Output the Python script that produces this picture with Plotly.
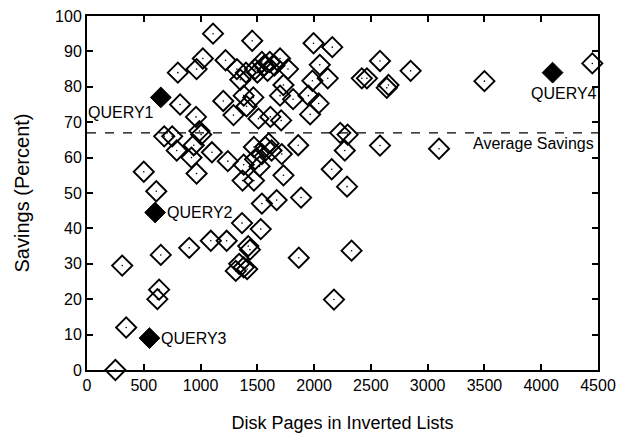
import plotly.graph_objects as go

# ---- data ----
open_x = [250, 310, 345, 500, 610, 620, 635, 650, 680, 750, 790, 800, 820, 920, 940, 965,
          965, 990, 1005, 960, 1020, 1100, 1110, 1090, 900, 1220, 1200, 1230, 1240, 1290,
          1320, 1310, 1340, 1370, 1365, 1380, 1380, 1400, 1405, 1410, 1420, 1435, 1455,
          1465, 1470, 1480, 1480, 1380, 1510, 1520, 1530, 1540, 1540, 1540, 1570, 1610,
          1615, 1625, 1670, 1700, 1700, 1710, 1715, 1730, 1730, 1770, 1815, 1860, 1865,
          1885, 1950, 1965, 1985, 1995, 2040, 2050, 2120, 2160, 2155, 2175, 2230, 2270,
          2295, 2290, 2330, 2420, 2465, 2580, 2580, 2640, 2655, 2850, 3100, 3500, 4450,
          1500, 1560, 1590, 1650, 1350, 1470, 1600]
open_y = [0, 29.5, 12, 56, 50.5, 20, 22.7, 32.5, 66, 66, 62, 84, 75, 60, 63.5, 55.5,
          85, 67.5, 66.5, 71.5, 88, 61.5, 95, 36.5, 34.5, 87.5, 76, 36.5, 59, 72,
          85, 28, 30, 53.5, 41.5, 77.5, 29, 84, 74.5, 28.5, 35, 34, 93,
          77, 53.5, 85, 59.5, 58, 71, 57.5, 39.8, 87, 47, 61, 63, 87,
          71.5, 62, 48, 88, 77.5, 70.5, 61, 80.5, 55, 85, 76.5, 63.5, 31.7,
          48.7, 77.5, 72.2, 81.7, 92.3, 75.3, 86.2, 82.4, 91.2, 56.7, 19.9, 67, 62,
          66.5, 51.8, 33.7, 82.4, 82.4, 87.3, 63.4, 79.7, 80.5, 84.5, 62.5, 81.6, 86.6,
          84, 86, 84.5, 86, 82, 63, 64]

query_x = [650, 600, 550, 4100]
query_y = [77, 44.5, 9, 84]
query_labels = ["QUERY1", "QUERY2", "QUERY3", "QUERY4"]

avg_savings = 67
avg_label = "Average Savings"

x_ticks = [0, 500, 1000, 1500, 2000, 2500, 3000, 3500, 4000, 4500]
y_ticks = [0, 10, 20, 30, 40, 50, 60, 70, 80, 90, 100]

FONT = "Liberation Sans, Arial, sans-serif"

fig = go.Figure()
fig.add_trace(go.Scatter(
    x=open_x, y=open_y, mode="markers",
    marker=dict(symbol="diamond-open", size=15.5, color="black",
                line=dict(color="black", width=1.9)),
    cliponaxis=False, showlegend=False, hoverinfo="skip"))
# tiny centre dots of the open diamonds
fig.add_trace(go.Scatter(
    x=open_x, y=open_y, mode="markers",
    marker=dict(symbol="circle", size=1.6, color="black", line=dict(width=0)),
    cliponaxis=False, showlegend=False, hoverinfo="skip"))
fig.add_trace(go.Scatter(
    x=query_x, y=query_y, mode="markers",
    marker=dict(symbol="diamond", size=16, color="black",
                line=dict(color="black", width=1)),
    cliponaxis=False, showlegend=False, hoverinfo="skip"))

fig.add_shape(type="line", xref="x", yref="y", x0=x_ticks[0], x1=x_ticks[-1],
              y0=avg_savings, y1=avg_savings,
              line=dict(color="black", width=1.2, dash="dash"))

# query labels
offsets = [
    dict(xanchor="right", yanchor="middle", xshift=-5, yshift=-15),
    dict(xanchor="left", yanchor="middle", xshift=10, yshift=0),
    dict(xanchor="left", yanchor="middle", xshift=10, yshift=0),
    dict(xanchor="center", yanchor="middle", xshift=11, yshift=-21),
]
for qx, qy, lab, off in zip(query_x, query_y, query_labels, offsets):
    fig.add_annotation(x=qx, y=qy, text=lab, showarrow=False,
                       font=dict(family=FONT, size=16, color="black"), **off)

fig.add_annotation(x=x_ticks[-1], y=avg_savings, text=avg_label, showarrow=False,
                   xanchor="right", yanchor="top", xshift=-2, yshift=0,
                   font=dict(family=FONT, size=16, color="black"))

axis_common = dict(showline=True, linewidth=2, linecolor="black", mirror="ticks",
                   ticks="inside", ticklen=6, tickwidth=1.5, tickcolor="black",
                   showgrid=False, zeroline=False, automargin=False,
                   tickfont=dict(family=FONT, size=16, color="black"))

fig.update_xaxes(range=[0, 4500], tickvals=x_ticks,
                 title=dict(text="Disk Pages in Inverted Lists",
                            font=dict(family=FONT, size=18, color="black"), standoff=23),
                 **axis_common)
fig.update_yaxes(range=[0, 100], tickvals=y_ticks,
                 title=dict(text="Savings (Percent)",
                            font=dict(family=FONT, size=20, color="black"), standoff=20),
                 **axis_common)

fig.update_layout(width=621, height=434, margin=dict(l=87, r=23, t=16, b=64),
                  paper_bgcolor="white", plot_bgcolor="white",
                  font=dict(family=FONT, color="black"))

fig.write_html("out.html")
